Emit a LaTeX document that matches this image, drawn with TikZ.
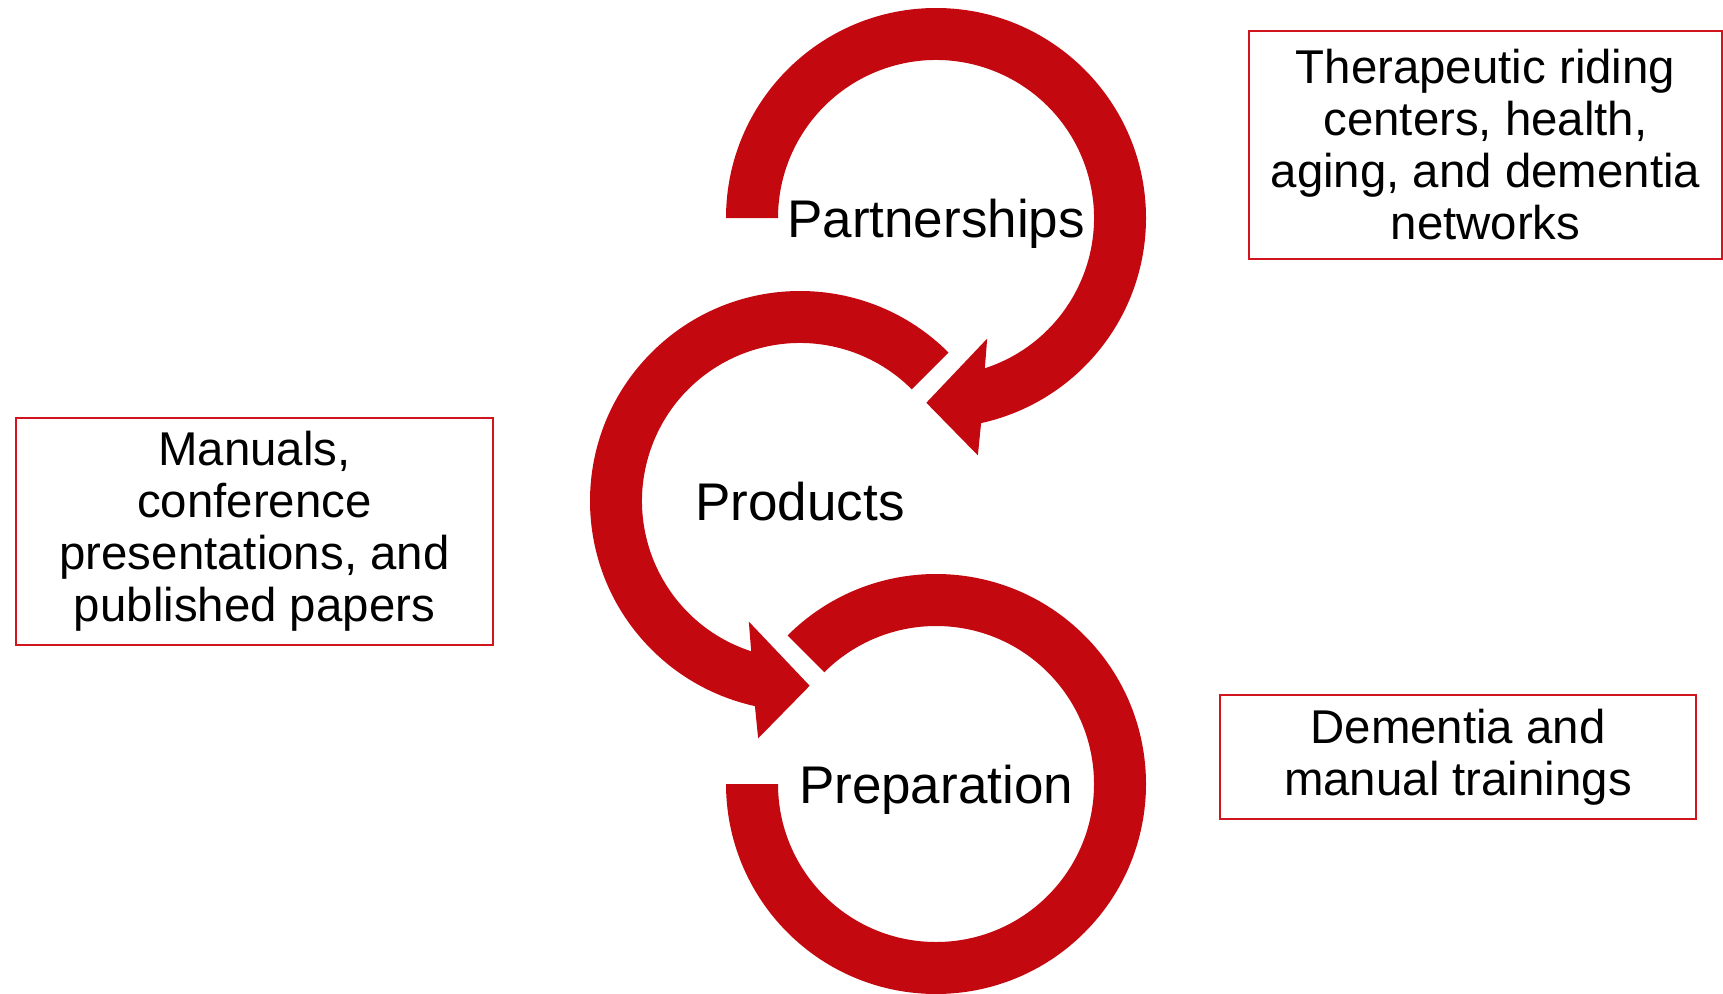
\documentclass[tikz,border=0pt]{standalone}
\usepackage{fontspec}
\setmainfont{Liberation Sans}
\usepackage{tikz}
\usetikzlibrary{positioning}

\definecolor{arrowred}{RGB}{195,8,16}
\definecolor{boxred}{RGB}{210,20,30}

\begin{document}
\begin{tikzpicture}[x=0.5pt, y=0.5pt,
    loop arrow/.style={fill=arrowred},
    cycle label/.style={font=\fontsize{26.5}{30}\selectfont, text depth=0pt},
    info box/.style={draw=boxred, line width=1pt, align=center,
      inner sep=0pt, font=\fontsize{23.7}{26}\selectfont},
  ]
  \useasboundingbox (0,0) rectangle (1723,993);

  \coordinate (cTop) at (936,775);
  \coordinate (cMid) at (800,492);
  \coordinate (cBot) at (936,209);
  % radii: outer 210, inner 158

  % top loop, clockwise
  \fill[loop arrow]
    ([shift={(180:210)}]cTop) arc[start angle=180, end angle=-77.6, radius=210]
    -- ([shift={(-80:241)}]cTop) -- ([shift={(-93:185)}]cTop)
    -- ([shift={(-67:131)}]cTop) -- ([shift={(-72:158)}]cTop)
    arc[start angle=-72, end angle=180, radius=158] -- cycle;

  % middle loop, counter clockwise
  \fill[loop arrow]
    ([shift={(45:210)}]cMid) arc[start angle=45, end angle=257.6, radius=210]
    -- ([shift={(260:241)}]cMid) -- ([shift={(273:185)}]cMid)
    -- ([shift={(247:131)}]cMid) -- ([shift={(252:158)}]cMid)
    arc[start angle=252, end angle=45, radius=158] -- cycle;

  % bottom loop, no head
  \fill[loop arrow]
    ([shift={(135:210)}]cBot) arc[start angle=135, end angle=-180, radius=210]
    -- ([shift={(-180:158)}]cBot)
    arc[start angle=-180, end angle=135, radius=158] -- cycle;

  \node[cycle label] (partnerships) at (cTop) {Partnerships};
  \node[cycle label] (products) at (cMid) {Products};
  \node[cycle label] (preparation) at (cBot) {Preparation};

  \node[info box, minimum width=236.5pt, minimum height=114pt]
    (networks) at (1485.5,848)
    {Therapeutic riding\\centers, health,\\aging, and dementia\\networks};
  \node[info box, minimum width=238.5pt, minimum height=113.5pt]
    (papers) at (254.5,461.5)
    {Manuals,\\conference\\presentations, and\\published papers};
  \node[info box, minimum width=238pt, minimum height=62.25pt]
    (trainings) at (1458,236)
    {Dementia and\\manual trainings};
\end{tikzpicture}
\end{document}
